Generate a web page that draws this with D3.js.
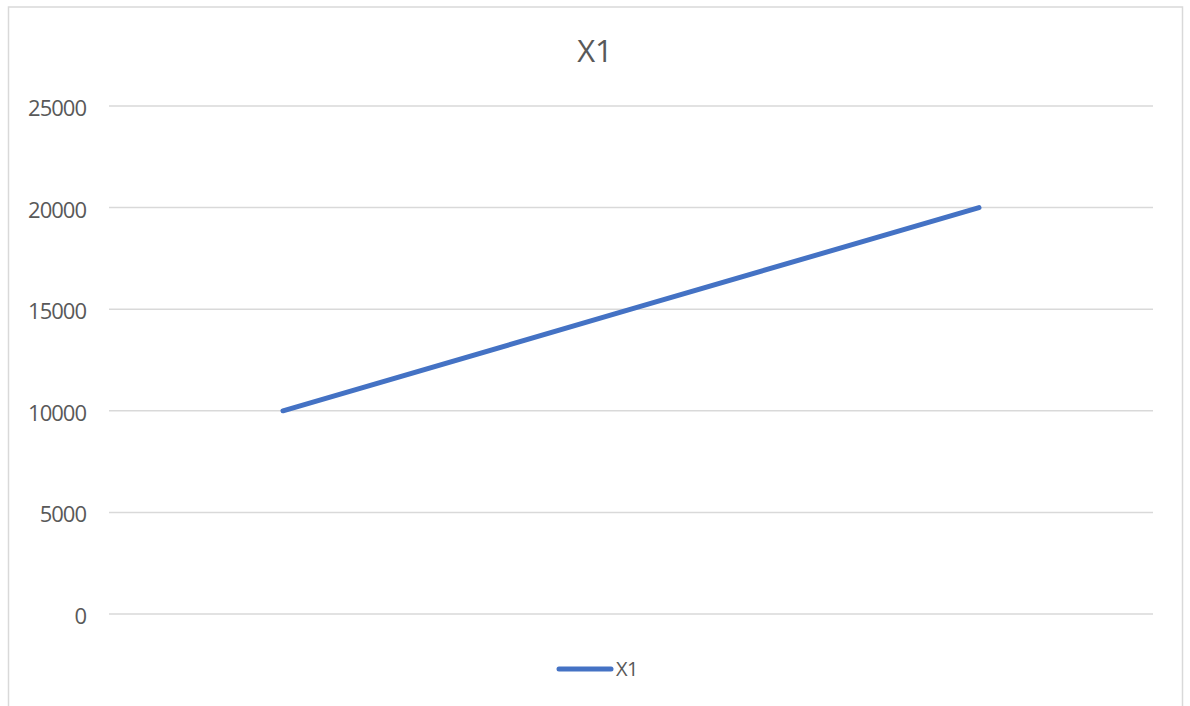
<!DOCTYPE html>
<html>
<head>
<meta charset="utf-8">
<script src="https://cdn.jsdelivr.net/npm/d3@7"></script>
<style>
  html, body { margin: 0; padding: 0; background: #fff; }
  svg { display: block; font-family: "Open Sans", "Noto Sans", sans-serif; }
</style>
</head>
<body>
<svg id="chart" width="1190" height="706"></svg>
<script>
// Series data
const categories = ["1", "2", "3"];
const seriesName = "X1";
const values = [10000, 15000, 20000];
const yTicks = [0, 5000, 10000, 15000, 20000, 25000];

const svg = d3.select("#chart");
const plot = { left: 109, right: 1153, top: 106, bottom: 614 };

// Chart frame
svg.append("rect")
  .attr("x", 8.5).attr("y", 7)
  .attr("width", 1174).attr("height", 720)
  .attr("fill", "#fff")
  .attr("stroke", "#d9d9d9").attr("stroke-width", 1.5);

const x = d3.scaleBand().domain(categories).range([plot.left, plot.right]);
const y = d3.scaleLinear().domain([0, 25000]).range([plot.bottom, plot.top]);

// Gridlines
svg.append("g")
  .selectAll("line")
  .data(yTicks)
  .join("line")
  .attr("x1", plot.left).attr("x2", plot.right)
  .attr("y1", d => y(d)).attr("y2", d => y(d))
  .attr("stroke", "#d9d9d9").attr("stroke-width", 1.5);

// Y axis labels
const yAxis = d3.axisLeft(y).tickValues(yTicks).tickSize(0).tickPadding(0).tickFormat(d3.format("d"));
const gy = svg.append("g").attr("transform", "translate(86,0)").call(yAxis);
gy.select(".domain").remove();
gy.selectAll("text")
  .attr("fill", "#595959")
  .attr("dy", "0.43em")
  .style("font-size", "22px")
  .style("letter-spacing", "-1px")
  .style("font-family", "'Open Sans', sans-serif");

// Line
const line = d3.line()
  .x((d, i) => x(categories[i]) + x.bandwidth() / 2)
  .y(d => y(d));

svg.append("path")
  .datum(values)
  .attr("d", line)
  .attr("fill", "none")
  .attr("stroke", "#4472c4")
  .attr("stroke-width", 5)
  .attr("stroke-linecap", "round")
  .attr("stroke-linejoin", "round");

// Title
svg.append("text")
  .attr("x", 595).attr("y", 62)
  .attr("text-anchor", "middle")
  .attr("fill", "#595959")
  .style("font-size", "31px")
  .text(seriesName);

// Legend
const lg = svg.append("g");
lg.append("line")
  .attr("x1", 559).attr("x2", 611)
  .attr("y1", 669).attr("y2", 669)
  .attr("stroke", "#4472c4").attr("stroke-width", 5)
  .attr("stroke-linecap", "round");
lg.append("text")
  .attr("x", 616).attr("y", 676)
  .attr("fill", "#595959")
  .style("font-size", "20px")
  .style("letter-spacing", "-0.5px")
  .text(seriesName);
</script>
</body>
</html>
